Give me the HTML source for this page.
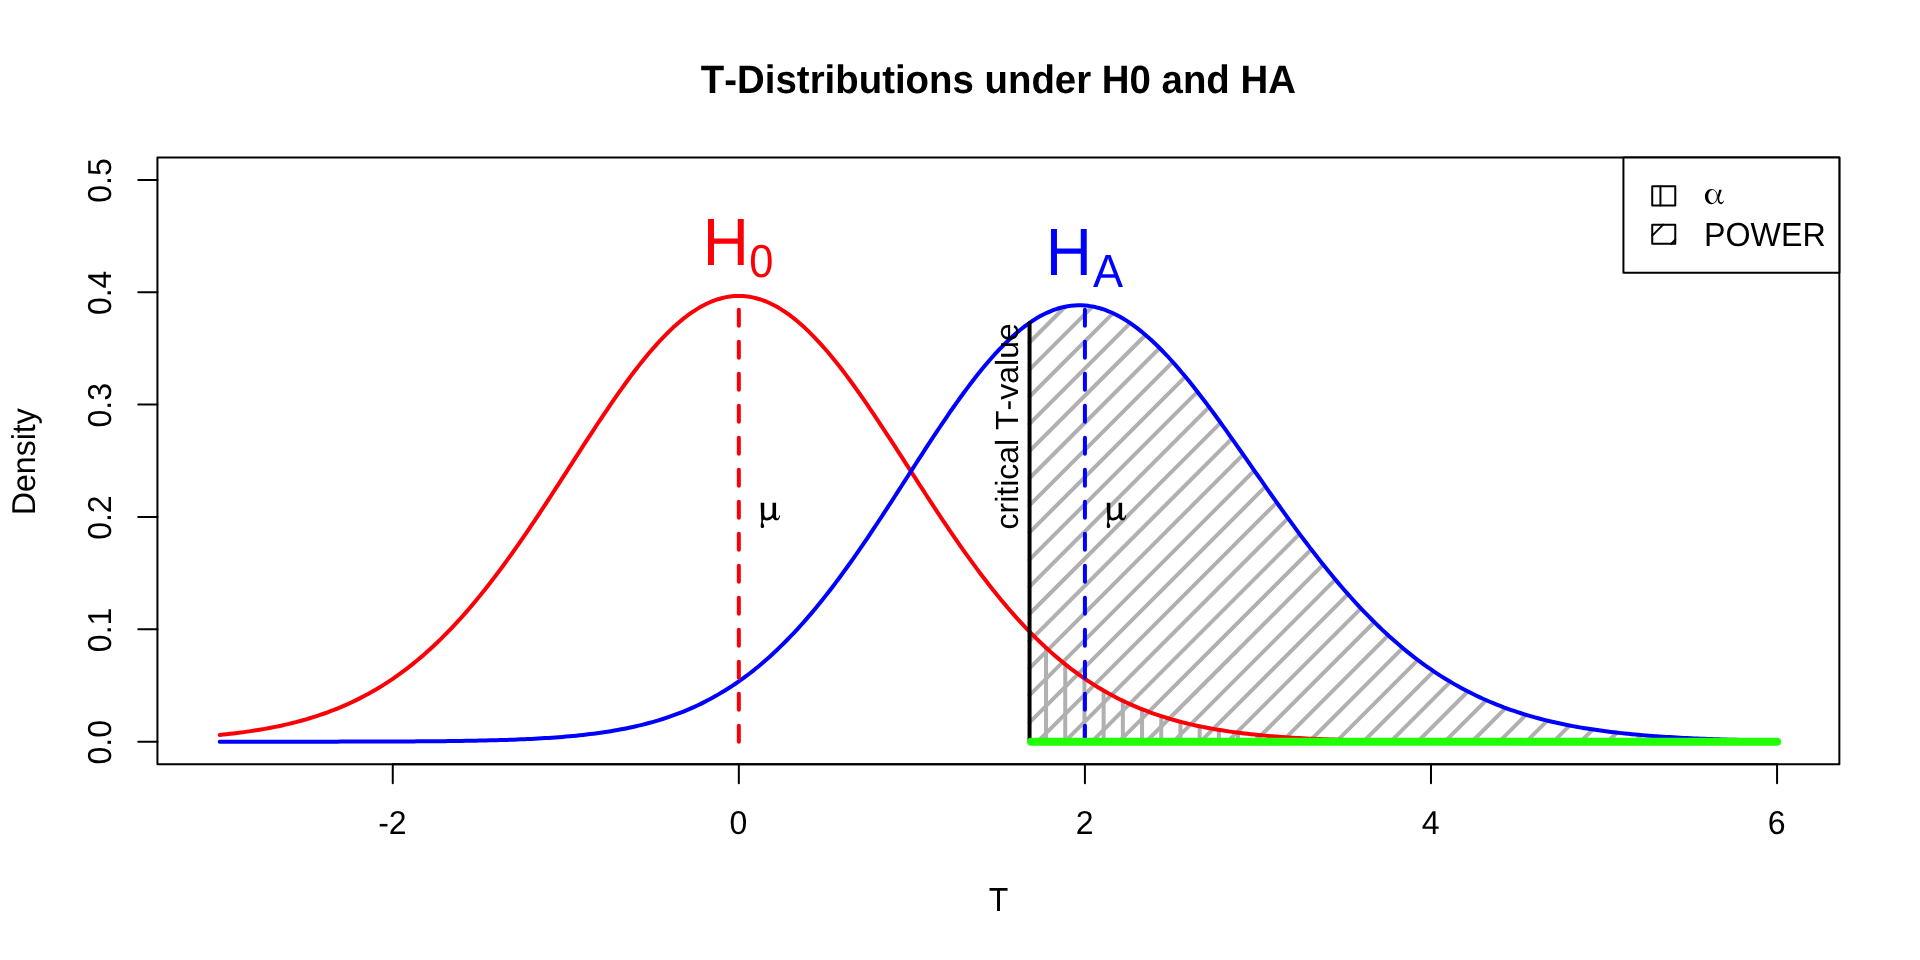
<!DOCTYPE html>
<html><head><meta charset="utf-8"><title>T-Distributions under H0 and HA</title>
<style>
html,body{margin:0;padding:0;background:#fff;}
body{width:1920px;height:960px;overflow:hidden;}
svg{display:block;will-change:transform;}
text{font-family:"Liberation Sans",sans-serif;fill:#000;font-kerning:none;text-rendering:geometricPrecision;}
</style></head><body>
<svg width="1920" height="960" viewBox="0 0 1920 960">
<rect width="1920" height="960" fill="#fff"/>

<g stroke="#b0b0b0" stroke-width="4" stroke-linecap="round" fill="none">
<line x1="1046.04" y1="741.69" x2="1046.04" y2="647.74"/>
<line x1="1065.24" y1="741.69" x2="1065.24" y2="664.25"/>
<line x1="1084.44" y1="741.69" x2="1084.44" y2="678.49"/>
<line x1="1103.64" y1="741.69" x2="1103.64" y2="690.61"/>
<line x1="1122.84" y1="741.69" x2="1122.84" y2="700.79"/>
<line x1="1142.04" y1="741.69" x2="1142.04" y2="709.24"/>
<line x1="1161.24" y1="741.69" x2="1161.24" y2="716.17"/>
<line x1="1180.44" y1="741.69" x2="1180.44" y2="721.79"/>
<line x1="1199.64" y1="741.69" x2="1199.64" y2="726.30"/>
<line x1="1218.84" y1="741.69" x2="1218.84" y2="729.88"/>
<line x1="1238.04" y1="741.69" x2="1238.04" y2="732.69"/>
<line x1="1257.24" y1="741.69" x2="1257.24" y2="734.89"/>
<line x1="1276.44" y1="741.69" x2="1276.44" y2="736.58"/>
<line x1="1295.64" y1="741.69" x2="1295.64" y2="737.88"/>
<line x1="1314.84" y1="741.69" x2="1314.84" y2="738.87"/>
<line x1="1334.04" y1="741.69" x2="1334.04" y2="739.61"/>
<line x1="1353.24" y1="741.69" x2="1353.24" y2="740.17"/>
<line x1="1372.44" y1="741.69" x2="1372.44" y2="740.58"/>
<line x1="1391.64" y1="741.69" x2="1391.64" y2="740.89"/>
<line x1="1410.84" y1="741.69" x2="1410.84" y2="741.11"/>
<line x1="1430.04" y1="741.69" x2="1430.04" y2="741.27"/>
<line x1="1029.45" y1="342.47" x2="1065.16" y2="306.77"/>
<line x1="1029.45" y1="369.63" x2="1092.45" y2="306.62"/>
<line x1="1029.45" y1="396.78" x2="1112.83" y2="313.40"/>
<line x1="1029.45" y1="423.93" x2="1130.21" y2="323.17"/>
<line x1="1029.45" y1="451.09" x2="1145.54" y2="334.99"/>
<line x1="1029.45" y1="478.24" x2="1159.57" y2="348.12"/>
<line x1="1029.45" y1="505.39" x2="1172.65" y2="362.19"/>
<line x1="1029.45" y1="532.54" x2="1185.18" y2="376.81"/>
<line x1="1029.45" y1="559.70" x2="1197.33" y2="391.81"/>
<line x1="1029.45" y1="586.85" x2="1209.11" y2="407.19"/>
<line x1="1029.45" y1="614.00" x2="1220.51" y2="422.94"/>
<line x1="1029.45" y1="641.16" x2="1231.92" y2="438.69"/>
<line x1="1029.45" y1="668.31" x2="1243.13" y2="454.62"/>
<line x1="1029.45" y1="695.46" x2="1254.16" y2="470.75"/>
<line x1="1029.45" y1="722.61" x2="1265.38" y2="486.68"/>
<line x1="1037.67" y1="741.54" x2="1276.60" y2="502.62"/>
<line x1="1064.78" y1="741.59" x2="1288.00" y2="518.37"/>
<line x1="1091.89" y1="741.63" x2="1299.41" y2="534.12"/>
<line x1="1119.00" y1="741.68" x2="1311.18" y2="549.49"/>
<line x1="1146.29" y1="741.53" x2="1323.15" y2="564.68"/>
<line x1="1173.40" y1="741.58" x2="1335.30" y2="579.68"/>
<line x1="1200.51" y1="741.62" x2="1347.83" y2="594.31"/>
<line x1="1227.62" y1="741.67" x2="1360.73" y2="608.56"/>
<line x1="1254.91" y1="741.53" x2="1374.19" y2="622.25"/>
<line x1="1282.02" y1="741.57" x2="1388.21" y2="635.38"/>
<line x1="1309.13" y1="741.62" x2="1402.60" y2="648.14"/>
<line x1="1336.24" y1="741.66" x2="1417.75" y2="660.15"/>
<line x1="1363.53" y1="741.52" x2="1433.64" y2="671.41"/>
<line x1="1390.64" y1="741.57" x2="1450.28" y2="681.93"/>
<line x1="1417.75" y1="741.61" x2="1467.85" y2="691.51"/>
<line x1="1444.85" y1="741.65" x2="1486.17" y2="700.34"/>
<line x1="1472.15" y1="741.51" x2="1505.61" y2="708.05"/>
<line x1="1499.26" y1="741.56" x2="1525.99" y2="714.82"/>
<line x1="1526.36" y1="741.60" x2="1547.30" y2="720.66"/>
<line x1="1553.47" y1="741.65" x2="1569.55" y2="725.57"/>
<line x1="1580.77" y1="741.51" x2="1592.73" y2="729.54"/>
<line x1="1607.88" y1="741.55" x2="1616.66" y2="732.76"/>
<line x1="1634.98" y1="741.60" x2="1641.34" y2="735.24"/>
<line x1="1662.09" y1="741.64" x2="1666.77" y2="736.97"/>
<line x1="1689.20" y1="741.69" x2="1692.38" y2="738.51"/>
<line x1="1716.49" y1="741.54" x2="1718.55" y2="739.49"/>
<line x1="1743.60" y1="741.59" x2="1745.10" y2="740.09"/>
<line x1="1770.71" y1="741.63" x2="1771.65" y2="740.70"/>
</g>
<path d="M219.73,734.96 L223.19,734.61 L226.65,734.24 L230.12,733.85 L233.58,733.45 L237.04,733.03 L240.50,732.58 L243.96,732.12 L247.42,731.64 L250.88,731.13 L254.34,730.60 L257.80,730.05 L261.26,729.47 L264.72,728.87 L268.18,728.24 L271.64,727.58 L275.11,726.90 L278.57,726.19 L282.03,725.44 L285.49,724.67 L288.95,723.86 L292.41,723.02 L295.87,722.14 L299.33,721.23 L302.79,720.29 L306.25,719.30 L309.71,718.28 L313.17,717.21 L316.63,716.11 L320.09,714.96 L323.56,713.76 L327.02,712.53 L330.48,711.24 L333.94,709.91 L337.40,708.53 L340.86,707.10 L344.32,705.62 L347.78,704.09 L351.24,702.50 L354.70,700.86 L358.16,699.16 L361.62,697.40 L365.08,695.59 L368.55,693.71 L372.01,691.78 L375.47,689.78 L378.93,687.72 L382.39,685.59 L385.85,683.40 L389.31,681.14 L392.77,678.82 L396.23,676.42 L399.69,673.95 L403.15,671.42 L406.61,668.81 L410.07,666.13 L413.53,663.38 L417.00,660.55 L420.46,657.64 L423.92,654.67 L427.38,651.61 L430.84,648.48 L434.30,645.27 L437.76,641.99 L441.22,638.63 L444.68,635.19 L448.14,631.67 L451.60,628.08 L455.06,624.41 L458.52,620.66 L461.99,616.83 L465.45,612.93 L468.91,608.95 L472.37,604.90 L475.83,600.77 L479.29,596.57 L482.75,592.29 L486.21,587.94 L489.67,583.53 L493.13,579.04 L496.59,574.49 L500.05,569.87 L503.51,565.19 L506.97,560.44 L510.44,555.64 L513.90,550.78 L517.36,545.86 L520.82,540.89 L524.28,535.87 L527.74,530.80 L531.20,525.69 L534.66,520.53 L538.12,515.34 L541.58,510.11 L545.04,504.85 L548.50,499.56 L551.96,494.24 L555.43,488.91 L558.89,483.55 L562.35,478.19 L565.81,472.81 L569.27,467.44 L572.73,462.06 L576.19,456.68 L579.65,451.31 L583.11,445.96 L586.57,440.62 L590.03,435.31 L593.49,430.03 L596.95,424.77 L600.41,419.56 L603.88,414.39 L607.34,409.26 L610.80,404.19 L614.26,399.17 L617.72,394.22 L621.18,389.34 L624.64,384.53 L628.10,379.79 L631.56,375.14 L635.02,370.58 L638.48,366.11 L641.94,361.74 L645.40,357.47 L648.87,353.31 L652.33,349.27 L655.79,345.34 L659.25,341.53 L662.71,337.85 L666.17,334.30 L669.63,330.88 L673.09,327.60 L676.55,324.47 L680.01,321.48 L683.47,318.64 L686.93,315.96 L690.39,313.43 L693.85,311.07 L697.32,308.86 L700.78,306.82 L704.24,304.95 L707.70,303.26 L711.16,301.73 L714.62,300.38 L718.08,299.21 L721.54,298.21 L725.00,297.39 L728.46,296.76 L731.92,296.30 L735.38,296.03 L738.84,295.94 L742.31,296.03 L745.77,296.30 L749.23,296.76 L752.69,297.39 L756.15,298.21 L759.61,299.21 L763.07,300.38 L766.53,301.73 L769.99,303.26 L773.45,304.95 L776.91,306.82 L780.37,308.86 L783.83,311.07 L787.29,313.43 L790.76,315.96 L794.22,318.64 L797.68,321.48 L801.14,324.47 L804.60,327.60 L808.06,330.88 L811.52,334.30 L814.98,337.85 L818.44,341.53 L821.90,345.34 L825.36,349.27 L828.82,353.31 L832.28,357.47 L835.75,361.74 L839.21,366.11 L842.67,370.58 L846.13,375.14 L849.59,379.79 L853.05,384.53 L856.51,389.34 L859.97,394.22 L863.43,399.17 L866.89,404.19 L870.35,409.26 L873.81,414.39 L877.27,419.56 L880.73,424.77 L884.20,430.03 L887.66,435.31 L891.12,440.62 L894.58,445.96 L898.04,451.31 L901.50,456.68 L904.96,462.06 L908.42,467.44 L911.88,472.81 L915.34,478.19 L918.80,483.55 L922.26,488.91 L925.72,494.24 L929.19,499.56 L932.65,504.85 L936.11,510.11 L939.57,515.34 L943.03,520.53 L946.49,525.69 L949.95,530.80 L953.41,535.87 L956.87,540.89 L960.33,545.86 L963.79,550.78 L967.25,555.64 L970.71,560.44 L974.17,565.19 L977.64,569.87 L981.10,574.49 L984.56,579.04 L988.02,583.53 L991.48,587.94 L994.94,592.29 L998.40,596.57 L1001.86,600.77 L1005.32,604.90 L1008.78,608.95 L1012.24,612.93 L1015.70,616.83 L1019.16,620.66 L1022.63,624.41 L1026.09,628.08 L1029.55,631.67 L1033.01,635.19 L1036.47,638.63 L1039.93,641.99 L1043.39,645.27 L1046.85,648.48 L1050.31,651.61 L1053.77,654.67 L1057.23,657.64 L1060.69,660.55 L1064.15,663.38 L1067.61,666.13 L1071.08,668.81 L1074.54,671.42 L1078.00,673.95 L1081.46,676.42 L1084.92,678.82 L1088.38,681.14 L1091.84,683.40 L1095.30,685.59 L1098.76,687.72 L1102.22,689.78 L1105.68,691.78 L1109.14,693.71 L1112.60,695.59 L1116.07,697.40 L1119.53,699.16 L1122.99,700.86 L1126.45,702.50 L1129.91,704.09 L1133.37,705.62 L1136.83,707.10 L1140.29,708.53 L1143.75,709.91 L1147.21,711.24 L1150.67,712.53 L1154.13,713.76 L1157.59,714.96 L1161.05,716.11 L1164.52,717.21 L1167.98,718.28 L1171.44,719.30 L1174.90,720.29 L1178.36,721.23 L1181.82,722.14 L1185.28,723.02 L1188.74,723.86 L1192.20,724.67 L1195.66,725.44 L1199.12,726.19 L1202.58,726.90 L1206.04,727.58 L1209.51,728.24 L1212.97,728.87 L1216.43,729.47 L1219.89,730.05 L1223.35,730.60 L1226.81,731.13 L1230.27,731.64 L1233.73,732.12 L1237.19,732.58 L1240.65,733.03 L1244.11,733.45 L1247.57,733.85 L1251.03,734.24 L1254.49,734.61 L1257.96,734.96 L1261.42,735.30 L1264.88,735.62 L1268.34,735.92 L1271.80,736.21 L1275.26,736.49 L1278.72,736.76 L1282.18,737.01 L1285.64,737.25 L1289.10,737.48 L1292.56,737.70 L1296.02,737.90 L1299.48,738.10 L1302.95,738.29 L1306.41,738.47 L1309.87,738.64 L1313.33,738.80 L1316.79,738.95 L1320.25,739.10 L1323.71,739.24 L1327.17,739.37 L1330.63,739.50 L1334.09,739.61 L1337.55,739.73 L1341.01,739.83 L1344.47,739.93 L1347.93,740.03 L1351.40,740.12 L1354.86,740.21 L1358.32,740.29 L1361.78,740.37 L1365.24,740.44 L1368.70,740.51 L1372.16,740.58 L1375.62,740.64 L1379.08,740.70 L1382.54,740.75 L1386.00,740.81 L1389.46,740.86 L1392.92,740.90 L1396.39,740.95 L1399.85,740.99 L1403.31,741.03 L1406.77,741.07 L1410.23,741.10 L1413.69,741.14 L1417.15,741.17 L1420.61,741.20 L1424.07,741.23 L1427.53,741.26 L1430.99,741.28 L1434.45,741.31 L1437.91,741.33 L1441.37,741.35 L1444.84,741.37 L1448.30,741.39 L1451.76,741.41 L1455.22,741.42 L1458.68,741.44 L1462.14,741.45 L1465.60,741.47 L1469.06,741.48 L1472.52,741.49 L1475.98,741.50 L1479.44,741.52 L1482.90,741.53 L1486.36,741.54 L1489.83,741.55 L1493.29,741.55 L1496.75,741.56 L1500.21,741.57 L1503.67,741.58 L1507.13,741.58 L1510.59,741.59 L1514.05,741.60 L1517.51,741.60 L1520.97,741.61 L1524.43,741.61 L1527.89,741.62 L1531.35,741.62 L1534.81,741.63 L1538.28,741.63 L1541.74,741.63 L1545.20,741.64 L1548.66,741.64 L1552.12,741.64 L1555.58,741.65 L1559.04,741.65 L1562.50,741.65 L1565.96,741.65 L1569.42,741.66 L1572.88,741.66 L1576.34,741.66 L1579.80,741.66 L1583.27,741.66 L1586.73,741.67 L1590.19,741.67 L1593.65,741.67 L1597.11,741.67 L1600.57,741.67 L1604.03,741.67 L1607.49,741.67 L1610.95,741.67 L1614.41,741.67 L1617.87,741.68 L1621.33,741.68 L1624.79,741.68 L1628.25,741.68 L1631.72,741.68 L1635.18,741.68 L1638.64,741.68 L1642.10,741.68 L1645.56,741.68 L1649.02,741.68 L1652.48,741.68 L1655.94,741.68 L1659.40,741.68 L1662.86,741.68 L1666.32,741.68 L1669.78,741.68 L1673.24,741.68 L1676.71,741.68 L1680.17,741.68 L1683.63,741.69 L1687.09,741.69 L1690.55,741.69 L1694.01,741.69 L1697.47,741.69 L1700.93,741.69 L1704.39,741.69 L1707.85,741.69 L1711.31,741.69 L1714.77,741.69 L1718.23,741.69 L1721.69,741.69 L1725.16,741.69 L1728.62,741.69 L1732.08,741.69 L1735.54,741.69 L1739.00,741.69 L1742.46,741.69 L1745.92,741.69 L1749.38,741.69 L1752.84,741.69 L1756.30,741.69 L1759.76,741.69 L1763.22,741.69 L1766.68,741.69 L1770.15,741.69 L1773.61,741.69 L1777.07,741.69" fill="none" stroke="#fb0007" stroke-width="4" stroke-linecap="round" stroke-linejoin="round"/>
<path d="M219.73,741.68 L223.19,741.68 L226.65,741.68 L230.12,741.68 L233.58,741.68 L237.04,741.68 L240.50,741.68 L243.96,741.68 L247.42,741.68 L250.88,741.68 L254.34,741.68 L257.80,741.68 L261.26,741.68 L264.72,741.68 L268.18,741.68 L271.64,741.67 L275.11,741.67 L278.57,741.67 L282.03,741.67 L285.49,741.67 L288.95,741.67 L292.41,741.67 L295.87,741.66 L299.33,741.66 L302.79,741.66 L306.25,741.66 L309.71,741.66 L313.17,741.65 L316.63,741.65 L320.09,741.65 L323.56,741.64 L327.02,741.64 L330.48,741.64 L333.94,741.63 L337.40,741.63 L340.86,741.62 L344.32,741.62 L347.78,741.61 L351.24,741.61 L354.70,741.60 L358.16,741.59 L361.62,741.59 L365.08,741.58 L368.55,741.57 L372.01,741.56 L375.47,741.55 L378.93,741.54 L382.39,741.53 L385.85,741.52 L389.31,741.51 L392.77,741.49 L396.23,741.48 L399.69,741.46 L403.15,741.45 L406.61,741.43 L410.07,741.41 L413.53,741.39 L417.00,741.37 L420.46,741.35 L423.92,741.32 L427.38,741.29 L430.84,741.27 L434.30,741.24 L437.76,741.20 L441.22,741.17 L444.68,741.13 L448.14,741.09 L451.60,741.05 L455.06,741.01 L458.52,740.96 L461.99,740.91 L465.45,740.86 L468.91,740.80 L472.37,740.74 L475.83,740.67 L479.29,740.61 L482.75,740.53 L486.21,740.45 L489.67,740.37 L493.13,740.28 L496.59,740.19 L500.05,740.09 L503.51,739.99 L506.97,739.88 L510.44,739.76 L513.90,739.63 L517.36,739.50 L520.82,739.36 L524.28,739.21 L527.74,739.05 L531.20,738.89 L534.66,738.71 L538.12,738.52 L541.58,738.33 L545.04,738.12 L548.50,737.90 L551.96,737.67 L555.43,737.42 L558.89,737.16 L562.35,736.89 L565.81,736.60 L569.27,736.30 L572.73,735.98 L576.19,735.64 L579.65,735.29 L583.11,734.92 L586.57,734.52 L590.03,734.11 L593.49,733.68 L596.95,733.22 L600.41,732.74 L603.88,732.24 L607.34,731.71 L610.80,731.16 L614.26,730.58 L617.72,729.97 L621.18,729.33 L624.64,728.67 L628.10,727.97 L631.56,727.24 L635.02,726.47 L638.48,725.67 L641.94,724.84 L645.40,723.96 L648.87,723.05 L652.33,722.10 L655.79,721.11 L659.25,720.07 L662.71,718.99 L666.17,717.87 L669.63,716.70 L673.09,715.48 L676.55,714.21 L680.01,712.89 L683.47,711.52 L686.93,710.09 L690.39,708.61 L693.85,707.08 L697.32,705.48 L700.78,703.83 L704.24,702.12 L707.70,700.34 L711.16,698.50 L714.62,696.60 L718.08,694.63 L721.54,692.59 L725.00,690.49 L728.46,688.31 L731.92,686.07 L735.38,683.75 L738.84,681.36 L742.31,678.90 L745.77,676.36 L749.23,673.75 L752.69,671.05 L756.15,668.29 L759.61,665.44 L763.07,662.51 L766.53,659.51 L769.99,656.42 L773.45,653.25 L776.91,650.01 L780.37,646.68 L783.83,643.27 L787.29,639.78 L790.76,636.21 L794.22,632.55 L797.68,628.82 L801.14,625.01 L804.60,621.11 L808.06,617.14 L811.52,613.09 L814.98,608.96 L818.44,604.76 L821.90,600.48 L825.36,596.12 L828.82,591.69 L832.28,587.20 L835.75,582.63 L839.21,577.99 L842.67,573.29 L846.13,568.53 L849.59,563.71 L853.05,558.82 L856.51,553.89 L859.97,548.89 L863.43,543.85 L866.89,538.76 L870.35,533.62 L873.81,528.45 L877.27,523.24 L880.73,517.99 L884.20,512.71 L887.66,507.40 L891.12,502.08 L894.58,496.73 L898.04,491.37 L901.50,485.99 L904.96,480.62 L908.42,475.23 L911.88,469.86 L915.34,464.49 L918.80,459.13 L922.26,453.79 L925.72,448.46 L929.19,443.17 L932.65,437.91 L936.11,432.68 L939.57,427.49 L943.03,422.35 L946.49,417.26 L949.95,412.23 L953.41,407.26 L956.87,402.35 L960.33,397.52 L963.79,392.76 L967.25,388.08 L970.71,383.49 L974.17,378.98 L977.64,374.58 L981.10,370.27 L984.56,366.07 L988.02,361.98 L991.48,358.00 L994.94,354.13 L998.40,350.39 L1001.86,346.78 L1005.32,343.29 L1008.78,339.94 L1012.24,336.73 L1015.70,333.65 L1019.16,330.72 L1022.63,327.94 L1026.09,325.31 L1029.55,322.83 L1033.01,320.51 L1036.47,318.34 L1039.93,316.34 L1043.39,314.49 L1046.85,312.81 L1050.31,311.30 L1053.77,309.95 L1057.23,308.78 L1060.69,307.77 L1064.15,306.93 L1067.61,306.26 L1071.08,305.77 L1074.54,305.44 L1078.00,305.29 L1081.46,305.31 L1084.92,305.50 L1088.38,305.86 L1091.84,306.39 L1095.30,307.08 L1098.76,307.95 L1102.22,308.97 L1105.68,310.17 L1109.14,311.52 L1112.60,313.04 L1116.07,314.71 L1119.53,316.54 L1122.99,318.52 L1126.45,320.65 L1129.91,322.92 L1133.37,325.35 L1136.83,327.91 L1140.29,330.61 L1143.75,333.45 L1147.21,336.41 L1150.67,339.51 L1154.13,342.72 L1157.59,346.06 L1161.05,349.51 L1164.52,353.08 L1167.98,356.75 L1171.44,360.52 L1174.90,364.40 L1178.36,368.37 L1181.82,372.43 L1185.28,376.57 L1188.74,380.80 L1192.20,385.10 L1195.66,389.48 L1199.12,393.93 L1202.58,398.44 L1206.04,403.01 L1209.51,407.63 L1212.97,412.31 L1216.43,417.03 L1219.89,421.79 L1223.35,426.59 L1226.81,431.43 L1230.27,436.29 L1233.73,441.18 L1237.19,446.09 L1240.65,451.02 L1244.11,455.96 L1247.57,460.90 L1251.03,465.86 L1254.49,470.81 L1257.96,475.76 L1261.42,480.71 L1264.88,485.65 L1268.34,490.57 L1271.80,495.48 L1275.26,500.37 L1278.72,505.24 L1282.18,510.08 L1285.64,514.90 L1289.10,519.68 L1292.56,524.43 L1296.02,529.14 L1299.48,533.82 L1302.95,538.45 L1306.41,543.05 L1309.87,547.59 L1313.33,552.09 L1316.79,556.55 L1320.25,560.95 L1323.71,565.29 L1327.17,569.59 L1330.63,573.83 L1334.09,578.01 L1337.55,582.13 L1341.01,586.20 L1344.47,590.20 L1347.93,594.15 L1351.40,598.03 L1354.86,601.85 L1358.32,605.60 L1361.78,609.30 L1365.24,612.92 L1368.70,616.48 L1372.16,619.98 L1375.62,623.41 L1379.08,626.78 L1382.54,630.08 L1386.00,633.31 L1389.46,636.48 L1392.92,639.58 L1396.39,642.62 L1399.85,645.59 L1403.31,648.50 L1406.77,651.34 L1410.23,654.12 L1413.69,656.83 L1417.15,659.48 L1420.61,662.07 L1424.07,664.59 L1427.53,667.06 L1430.99,669.46 L1434.45,671.80 L1437.91,674.08 L1441.37,676.31 L1444.84,678.47 L1448.30,680.58 L1451.76,682.64 L1455.22,684.63 L1458.68,686.57 L1462.14,688.46 L1465.60,690.30 L1469.06,692.08 L1472.52,693.81 L1475.98,695.49 L1479.44,697.13 L1482.90,698.71 L1486.36,700.25 L1489.83,701.74 L1493.29,703.19 L1496.75,704.59 L1500.21,705.95 L1503.67,707.26 L1507.13,708.54 L1510.59,709.77 L1514.05,710.96 L1517.51,712.12 L1520.97,713.24 L1524.43,714.32 L1527.89,715.37 L1531.35,716.38 L1534.81,717.35 L1538.28,718.30 L1541.74,719.21 L1545.20,720.09 L1548.66,720.94 L1552.12,721.76 L1555.58,722.55 L1559.04,723.31 L1562.50,724.05 L1565.96,724.76 L1569.42,725.44 L1572.88,726.10 L1576.34,726.74 L1579.80,727.35 L1583.27,727.94 L1586.73,728.50 L1590.19,729.05 L1593.65,729.58 L1597.11,730.08 L1600.57,730.57 L1604.03,731.04 L1607.49,731.49 L1610.95,731.92 L1614.41,732.33 L1617.87,732.73 L1621.33,733.12 L1624.79,733.49 L1628.25,733.84 L1631.72,734.18 L1635.18,734.51 L1638.64,734.82 L1642.10,735.12 L1645.56,735.41 L1649.02,735.69 L1652.48,735.95 L1655.94,736.21 L1659.40,736.45 L1662.86,736.68 L1666.32,736.91 L1669.78,737.12 L1673.24,737.33 L1676.71,737.52 L1680.17,737.71 L1683.63,737.89 L1687.09,738.07 L1690.55,738.23 L1694.01,738.39 L1697.47,738.54 L1700.93,738.69 L1704.39,738.83 L1707.85,738.96 L1711.31,739.08 L1714.77,739.21 L1718.23,739.32 L1721.69,739.43 L1725.16,739.54 L1728.62,739.64 L1732.08,739.74 L1735.54,739.83 L1739.00,739.92 L1742.46,740.00 L1745.92,740.08 L1749.38,740.16 L1752.84,740.23 L1756.30,740.30 L1759.76,740.37 L1763.22,740.43 L1766.68,740.49 L1770.15,740.55 L1773.61,740.60 L1777.07,740.66" fill="none" stroke="#0000ff" stroke-width="4" stroke-linecap="round" stroke-linejoin="round"/>
<line x1="1029.55" y1="741.69" x2="1029.55" y2="322.90" stroke="#000" stroke-width="4" stroke-linecap="round"/>
<line x1="738.84" y1="741.69" x2="738.84" y2="295.94" stroke="#fb0007" stroke-width="4" stroke-linecap="round" stroke-dasharray="16 16"/>
<line x1="1084.92" y1="741.69" x2="1084.92" y2="305.50" stroke="#0000ff" stroke-width="4" stroke-linecap="round" stroke-dasharray="16 16"/>
<line x1="1031.1" y1="741.69" x2="1777.07" y2="741.69" stroke="#21ff06" stroke-width="8" stroke-linecap="round"/>
<g stroke="#000" stroke-width="2" fill="none" stroke-linecap="round" stroke-linejoin="round">
<rect x="157.44" y="157.44" width="1681.92" height="606.72"/>
<line x1="392.77" y1="764.16" x2="1777.07" y2="764.16"/>
<line x1="392.77" y1="764.16" x2="392.77" y2="783.36"/>
<line x1="738.84" y1="764.16" x2="738.84" y2="783.36"/>
<line x1="1084.92" y1="764.16" x2="1084.92" y2="783.36"/>
<line x1="1430.99" y1="764.16" x2="1430.99" y2="783.36"/>
<line x1="1777.07" y1="764.16" x2="1777.07" y2="783.36"/>
<line x1="157.44" y1="741.69" x2="138.24" y2="741.69"/>
<line x1="157.44" y1="629.33" x2="138.24" y2="629.33"/>
<line x1="157.44" y1="516.98" x2="138.24" y2="516.98"/>
<line x1="157.44" y1="404.62" x2="138.24" y2="404.62"/>
<line x1="157.44" y1="292.27" x2="138.24" y2="292.27"/>
<line x1="157.44" y1="179.91" x2="138.24" y2="179.91"/>
</g>
<text transform="translate(392.37,833.80) scale(1,1.035)" font-size="32" text-anchor="middle">-2</text>
<text transform="translate(738.44,833.80) scale(1,1.035)" font-size="32" text-anchor="middle">0</text>
<text transform="translate(1084.52,833.80) scale(1,1.035)" font-size="32" text-anchor="middle">2</text>
<text transform="translate(1430.59,833.80) scale(1,1.035)" font-size="32" text-anchor="middle">4</text>
<text transform="translate(1776.67,833.80) scale(1,1.035)" font-size="32" text-anchor="middle">6</text>
<text transform="translate(111.30,742.29) rotate(-90) scale(1,1.035)" font-size="32" text-anchor="middle">0.0</text>
<text transform="translate(111.30,629.93) rotate(-90) scale(1,1.035)" font-size="32" text-anchor="middle">0.1</text>
<text transform="translate(111.30,517.58) rotate(-90) scale(1,1.035)" font-size="32" text-anchor="middle">0.2</text>
<text transform="translate(111.30,405.22) rotate(-90) scale(1,1.035)" font-size="32" text-anchor="middle">0.3</text>
<text transform="translate(111.30,292.87) rotate(-90) scale(1,1.035)" font-size="32" text-anchor="middle">0.4</text>
<text transform="translate(111.30,180.51) rotate(-90) scale(1,1.035)" font-size="32" text-anchor="middle">0.5</text>
<text transform="translate(998.40,910.60) scale(1,1.04)" font-size="32" text-anchor="middle">T</text>
<text transform="translate(34.70,461.70) rotate(-90) scale(1,1.03)" font-size="32" text-anchor="middle">Density</text>
<text transform="translate(1018.10,426.40) rotate(-90)" font-size="32" text-anchor="middle">critical T-value</text>
<text transform="translate(998.40,93.00) scale(1,1.03)" font-size="38.4" text-anchor="middle" font-weight="bold">T-Distributions under H0 and HA</text>
<g font-size="64" text-rendering="geometricPrecision"><text transform="translate(702.7,264.9) scale(1,1.043)" style="fill:#fb0007">H</text><text transform="translate(749.2,277.2) scale(0.97,1.035)" font-size="44.8" style="fill:#fb0007">0</text></g>
<g font-size="64" text-rendering="geometricPrecision"><text transform="translate(1045.7,274.9) scale(1,1.043)" style="fill:#0000ff">H</text><text transform="translate(1092.9,286.9) scale(1.007,1.035)" font-size="44.8" style="fill:#0000ff">A</text></g>
<path d="M330,362 L388,362 L388,550 C388,588 410,603 435,603 C470,603 505,580 520,545 L520,362 L577,362 L577,575 C577,600 585,612 597,612 C612,612 622,595 628,562 L642,566 C634,620 615,645 585,645 C555,645 535,630 525,600 C500,630 465,648 430,648 C410,648 395,643 383,633 C368,642 361,660 367,682 C375,705 387,715 387,735 C387,757 373,769 358,769 C342,769 331,757 331,738 C331,705 346,680 340,630 Z" transform="translate(740,480) scale(0.0625)" fill="#000"/>
<path d="M330,362 L388,362 L388,550 C388,588 410,603 435,603 C470,603 505,580 520,545 L520,362 L577,362 L577,575 C577,600 585,612 597,612 C612,612 622,595 628,562 L642,566 C634,620 615,645 585,645 C555,645 535,630 525,600 C500,630 465,648 430,648 C410,648 395,643 383,633 C368,642 361,660 367,682 C375,705 387,715 387,735 C387,757 373,769 358,769 C342,769 331,757 331,738 C331,705 346,680 340,630 Z" transform="translate(1086.07,480) scale(0.0625)" fill="#000"/>
<g stroke="#000" stroke-width="2" fill="none" stroke-linejoin="round" stroke-linecap="round">
<rect x="1623.42" y="157.44" width="215.94" height="115.20" fill="#fff"/>
<rect x="1652.22" y="186.24" width="23.04" height="19.2"/>
<rect x="1652.22" y="224.64" width="23.04" height="19.2"/>
<line x1="1660.44" y1="186.24" x2="1660.44" y2="205.44"/>
<line x1="1652.22" y1="235.61" x2="1663.19" y2="224.64"/>
<line x1="1675.26" y1="239.72" x2="1671.14" y2="243.84"/>
</g>
<path d="M393,335 C478.6,335 548,416.7 548,517.5 C548,618.3 478.6,700 393,700 C307.4,700 238,618.3 238,517.5 C238,416.7 307.4,335 393,335 Z M421.5,362 C364.3,362 318,431.4 318,517 C318,602.6 364.3,672 421.5,672 C478.7,672 525,602.6 525,517 C525,431.4 478.7,362 421.5,362 Z M578,352 L642,352 C628,400 605,470 585,530 C578,560 580,600 595,635 C610,665 645,660 665,640 C675,630 684,615 690,603 L694,612 C690,650 665,695 625,700 C585,700 560,670 548,620 C540,580 538,540 545,500 C555,450 568,400 578,352 Z" transform="translate(1695,175) scale(0.041667)" fill="#000" fill-rule="evenodd"/>
<text transform="translate(1704.00,246.00) scale(1.008,1.04)" font-size="32" text-anchor="start">POWER</text>
</svg></body></html>
